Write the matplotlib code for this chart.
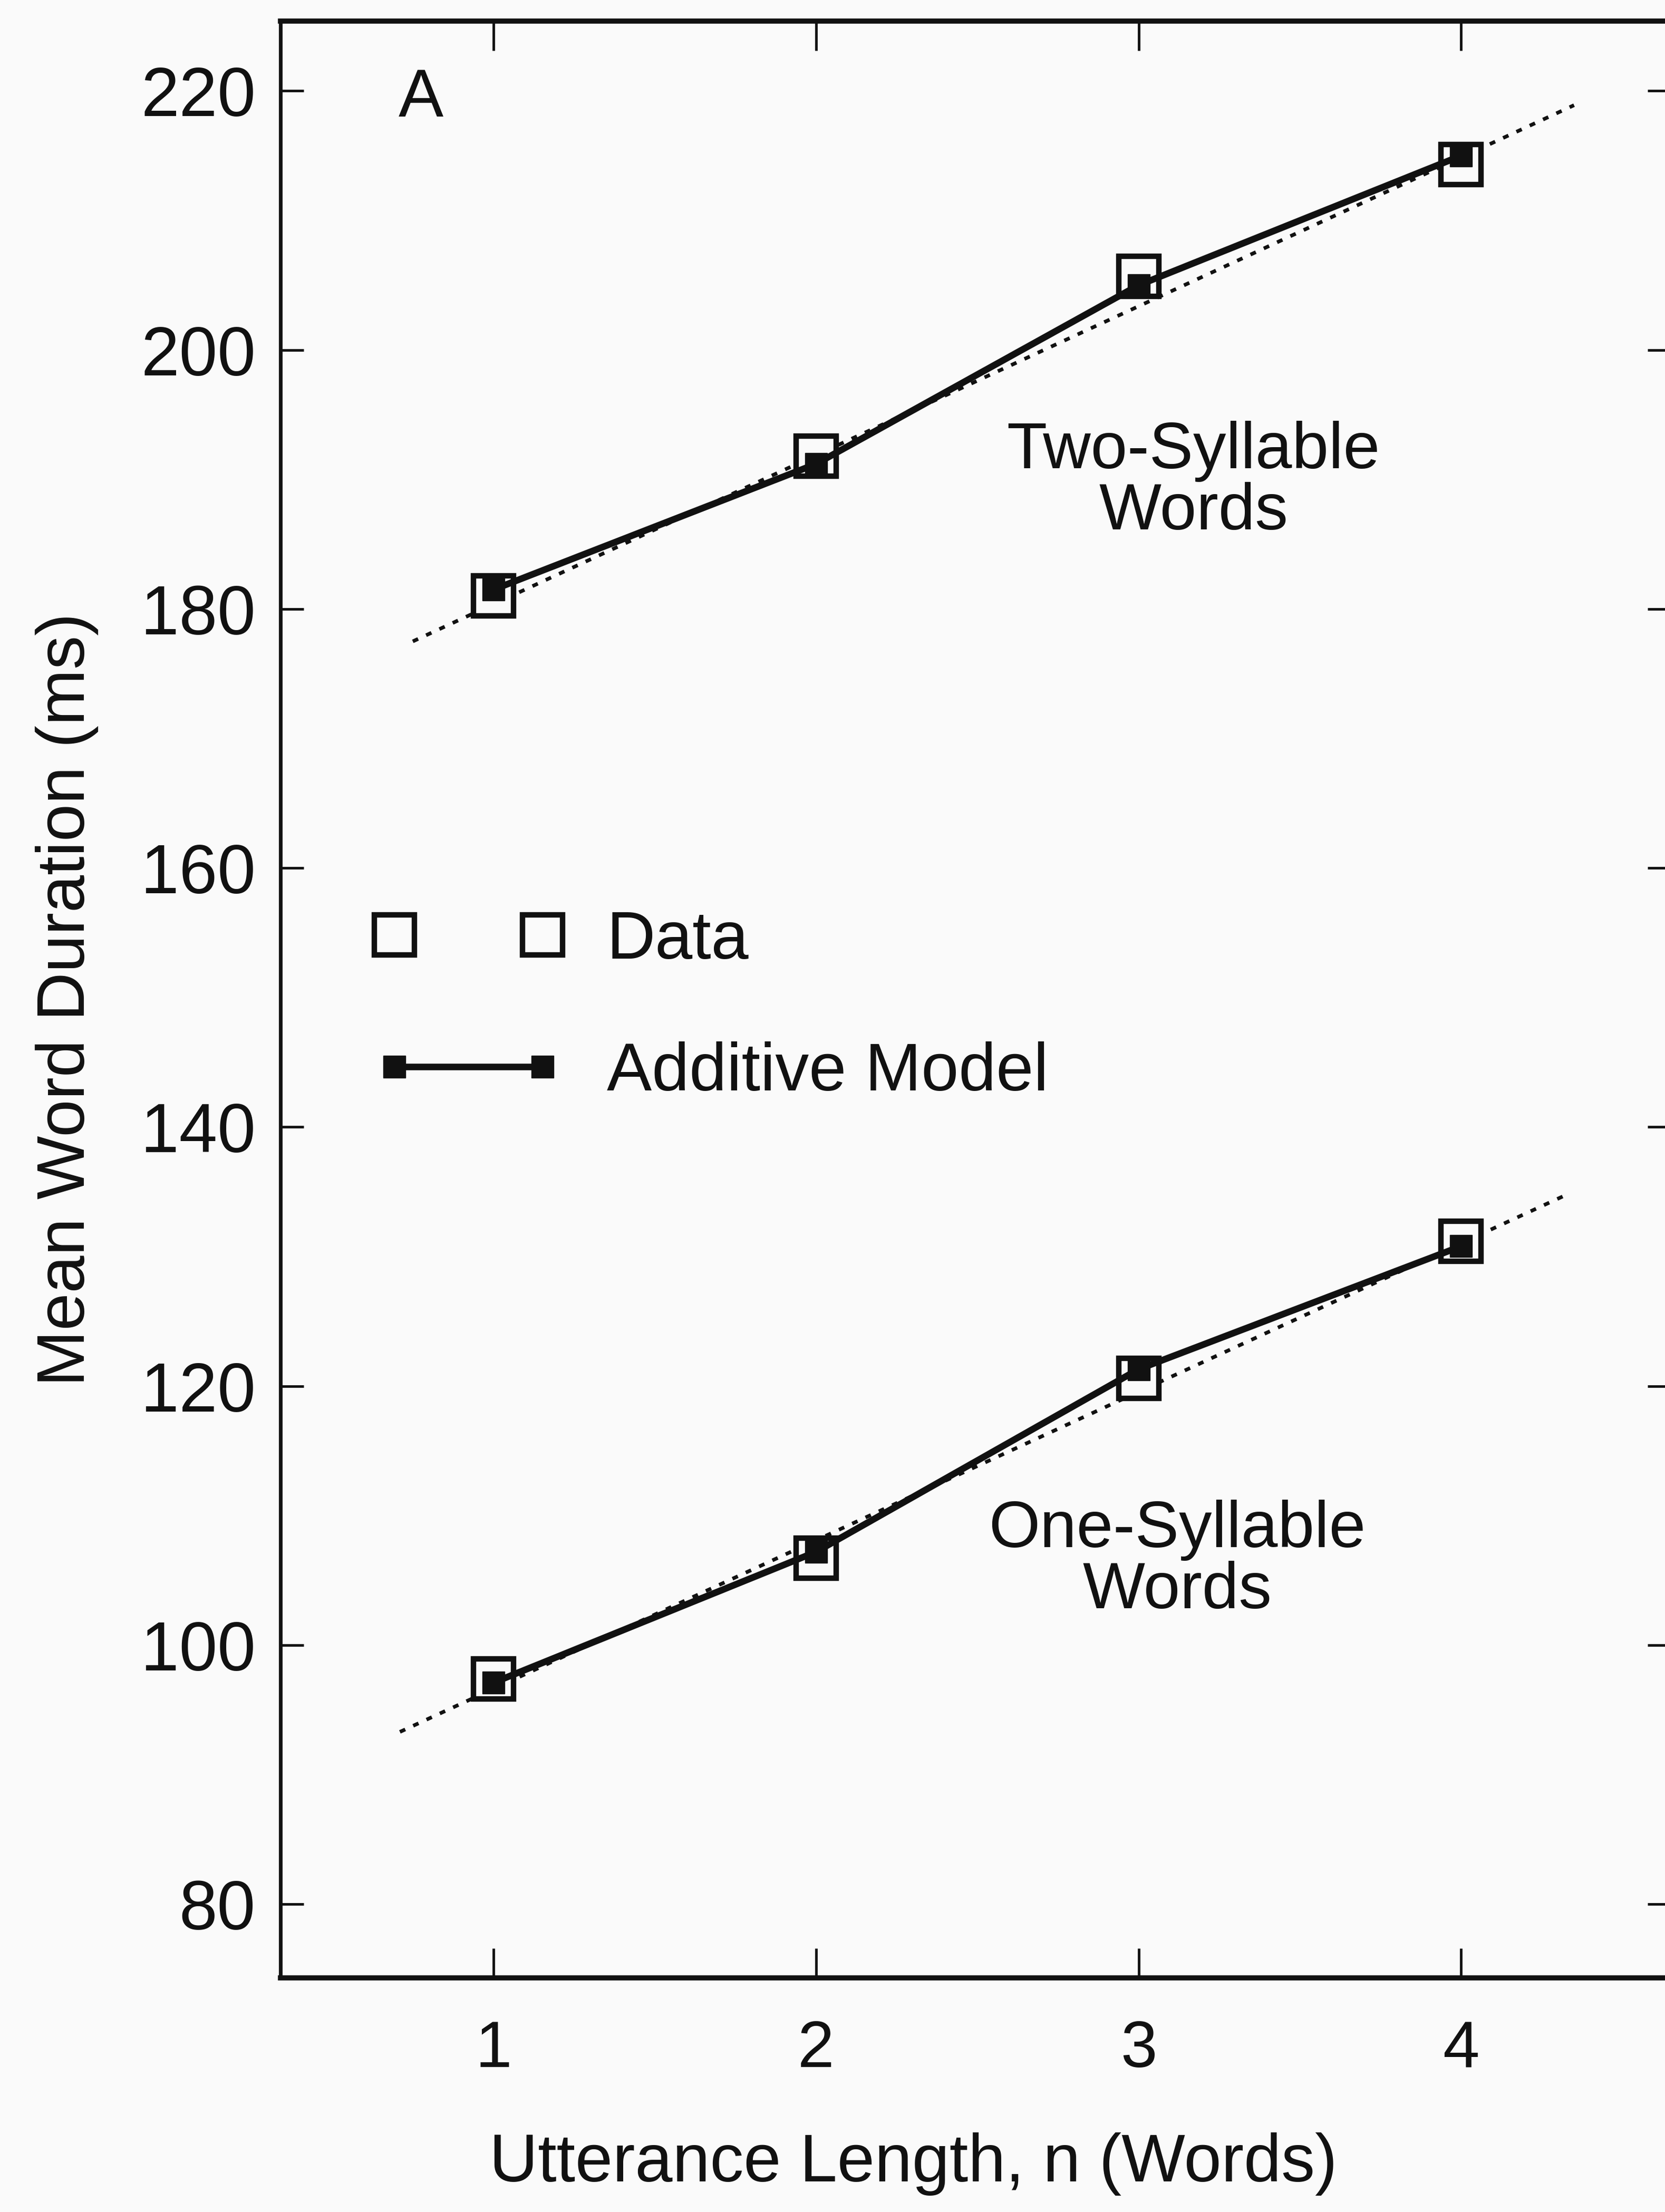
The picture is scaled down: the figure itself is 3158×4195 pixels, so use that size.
import matplotlib
matplotlib.use("Agg")
from matplotlib import pyplot as plt
from matplotlib.lines import Line2D
from matplotlib.legend_handler import HandlerLine2D

# utterance length (words)
n_words = [1, 2, 3, 4]

# mean word duration (ms)
two_syll_data = [181.0, 191.8, 205.7, 214.3]
two_syll_model = [181.5, 191.2, 205.0, 215.0]
one_syll_data = [97.4, 106.7, 120.6, 131.2]
one_syll_model = [97.1, 107.2, 121.3, 130.8]

# dotted linear fits (end points)
two_fit_x = [0.75, 4.35]
two_fit_y = [177.5, 218.9]
one_fit_x = [0.71, 4.32]
one_fit_y = [93.3, 134.7]

y_ticks = [80, 100, 120, 140, 160, 180, 200, 220]

plt.rcParams['font.family'] = ['Liberation Sans', 'DejaVu Sans']
ink = '#111111'
bg = '#fafafa'

fig = plt.figure(figsize=(31.58, 41.95), dpi=100, facecolor=bg)
ax = fig.add_axes([0.1685, 0.1058, 0.835, 0.8847], facecolor=bg)

dot_style = dict(color=ink, lw=5, linestyle=(0, (1.6, 2.4)), zorder=2)
ax.plot(two_fit_x, two_fit_y, **dot_style)
ax.plot(one_fit_x, one_fit_y, **dot_style)

data_style = dict(linestyle='none', marker='s', markersize=55, markeredgewidth=7.5,
                  markerfacecolor=bg, markeredgecolor=ink, zorder=3)
model_style = dict(color=ink, lw=9, marker='s', markersize=30, markerfacecolor=ink,
                   markeredgecolor=ink, zorder=4)

ax.plot(n_words, two_syll_data, **data_style)
ax.plot(n_words, one_syll_data, **data_style)
ax.plot(n_words, two_syll_model, **model_style)
ax.plot(n_words, one_syll_model, **model_style)

ax.set_xlim(0.34, 4.65)
ax.set_ylim(74.3, 225.4)
ax.set_xticks(n_words)
ax.set_yticks(y_ticks)

ax.tick_params(axis='x', direction='in', length=40, width=3.5, top=True,
               labelsize=90, pad=57, colors=ink)
ax.tick_params(axis='y', direction='in', length=32, width=3.5, right=True,
               labelsize=94, pad=34, colors=ink)
for side in ['top', 'bottom']:
    ax.spines[side].set_linewidth(7)
ax.spines['left'].set_linewidth(5)
ax.spines['right'].set_linewidth(5)
for sp in ax.spines.values():
    sp.set_color(ink)

ax.set_xlabel("Utterance Length, n (Words)", fontsize=92, color=ink)
ax.xaxis.set_label_coords(0.455, -0.079)
ax.set_ylabel("Mean Word Duration (ms)", fontsize=92, color=ink)
ax.yaxis.set_label_coords(-0.131, 0.5)

ax.text(0.775, 219.35, "A", fontsize=92, ha='center', va='center', color=ink)
ax.text(3.17, 189.8, "Two-Syllable\nWords", fontsize=90, ha='center', va='center',
        linespacing=1.0, color=ink)
ax.text(3.12, 106.5, "One-Syllable\nWords", fontsize=90, ha='center', va='center',
        linespacing=1.0, color=ink)

h_data = Line2D([], [], **data_style)
h_model = Line2D([], [], **model_style)
leg = ax.legend([h_data, h_model], ["Data", "Additive Model"], numpoints=2,
                handler_map={h_data: HandlerLine2D(marker_pad=0.15),
                             h_model: HandlerLine2D(marker_pad=0.15)},
                loc='upper left', bbox_to_anchor=(0.0747, 0.546), frameon=False,
                fontsize=92, handlelength=2.5, handletextpad=0.8, labelspacing=1.02,
                borderpad=0, borderaxespad=0)
for t in leg.get_texts():
    t.set_color(ink)

plt.savefig("out.png", dpi=100, facecolor=bg)
